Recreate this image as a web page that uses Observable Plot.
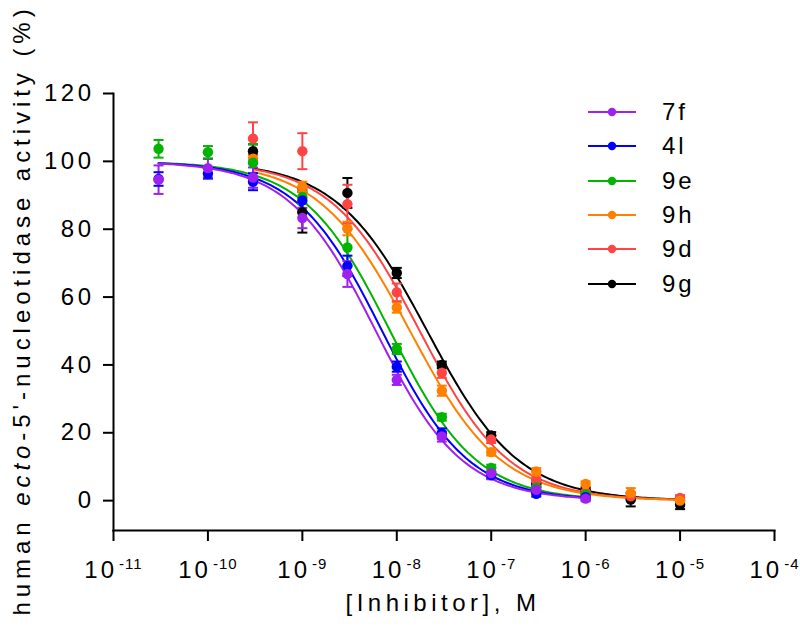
<!DOCTYPE html>
<html><head><meta charset="utf-8">
<script src="https://cdn.jsdelivr.net/npm/d3@7"></script>
<script src="https://cdn.jsdelivr.net/npm/@observablehq/plot@0.6"></script>
<style>
body{margin:0;background:#fff;}
#wrap{position:relative;width:800px;height:629px;font-family:"Liberation Sans",Arial,sans-serif;}
#legend{position:absolute;left:588px;top:95px;}
.row{display:flex;align-items:center;height:34.3px;}
.row span{margin-left:26px;font-size:24px;letter-spacing:3px;color:#000;}
</style></head><body><div id="wrap"><div id="legend"></div></div>
<script>
// ---- data ----
const compounds = ["7f", "4l", "9e", "9h", "9d", "9g"];
const colors = ["#a020f0", "#0000ff", "#00b400", "#ff8000", "#ff4444", "#000000"];
const concentrations = [3e-11, 1e-10, 3e-10, 1e-9, 3e-9, 1e-8, 3e-8, 1e-7, 3e-7, 1e-6, 3e-6, 1e-5];
const xTicks = [1e-11, 1e-10, 1e-9, 1e-8, 1e-7, 1e-6, 1e-5, 1e-4];
const yTicks = [0, 20, 40, 60, 80, 100, 120];

// mean activity (%) per concentration (null = not measured)
const mean7f = [94.6, 98.0, 95.2, 83.3, 66.8, 35.6, 18.9, 8.1, 3.2, 0.6, null, null];
const mean4l = [94.8, 96.4, 94.0, 88.5, 69.2, 39.5, 19.8, 7.5, 2.0, 1.0, null, null];
const mean9e = [103.7, 102.7, 99.6, 89.5, 74.6, 44.7, 24.6, 9.6, 3.9, 1.8, null, null];
const mean9h = [null, null, 100.8, 92.5, 80.2, 56.9, 32.4, 14.3, 8.6, 4.9, 2.2, 0.0];
const mean9d = [null, null, 106.7, 103.0, 87.4, 61.4, 37.7, 18.0, 5.9, 2.5, 1.3, 0.8];
const mean9g = [null, null, 103.0, 85.0, 90.7, 67.1, 40.0, 19.2, 5.0, 3.2, 0.3, -1.2];

// error (± SEM)
const err7f = [4.2, 2.7, 3.0, 3.0, 3.8, 1.5, 1.5, 1.8, 1.0, 0.8, null, null];
const err4l = [2.0, 1.5, 2.5, 3.5, 3.0, 1.5, 1.5, 1.0, 0.8, 0.8, null, null];
const err9e = [2.6, 1.8, 5.5, 2.0, 5.5, 1.5, 1.0, 1.0, 1.0, 0.8, null, null];
const err9h = [null, null, 1.5, 1.5, 2.0, 1.5, 1.5, 1.0, 1.0, 0.8, 1.5, 1.0];
const err9d = [null, null, 4.8, 5.3, 5.7, 2.6, 1.5, 1.0, 1.0, 0.8, 1.0, 0.8];
const err9g = [null, null, 2.0, 6.0, 4.4, 1.5, 1.0, 1.0, 1.0, 0.8, 2.0, 1.3];

// fitted dose-response parameters (estimated from the drawn curves)
const fitTop = [100, 100, 100, 100, 100, 100];
const fitBottom = [0, 0, 0, 0, 0, 0];
const fitIC50 = [6.0e-9, 7.0e-9, 8.5e-9, 1.38e-8, 1.75e-8, 2.1e-8];
const fitHill = [0.95, 0.95, 0.95, 0.9, 0.92, 0.9];

// ---- build tables ----
const means = [mean7f, mean4l, mean9e, mean9h, mean9d, mean9g];
const errs = [err7f, err4l, err9e, err9h, err9d, err9g];
const points = [];
const curves = [];
for (let i = compounds.length - 1; i >= 0; i--) {
  const idx = [];
  means[i].forEach((m, j) => {
    if (m != null) { idx.push(j); points.push({compound: compounds[i], x: concentrations[j], y: m, e: errs[i][j]}); }
  });
  const lo = Math.log10(concentrations[idx[0]]), hi = Math.log10(concentrations[idx[idx.length - 1]]);
  const n = 160;
  for (let k = 0; k <= n; k++) {
    const x = Math.pow(10, lo + (hi - lo) * k / n);
    const y = fitBottom[i] + (fitTop[i] - fitBottom[i]) / (1 + Math.pow(x / fitIC50[i], fitHill[i]));
    curves.push({compound: compounds[i], x, y});
  }
}

const cap = {draw(ctx, size) { const w = Math.sqrt(size / Math.PI); ctx.moveTo(-w, 0); ctx.lineTo(w, 0); }};

const chart = Plot.plot({
  width: 800, height: 629,
  marginLeft: 113, marginRight: 26, marginTop: 93, marginBottom: 99,
  style: {fontFamily: '"Liberation Sans", Arial, sans-serif', fontSize: "24px", color: "#000", background: "#fff"},
  x: {type: "log", domain: [1e-11, 1e-4]},
  y: {domain: [-8.8, 120]},
  color: {domain: compounds, range: colors},
  marks: [
    Plot.axisY({ticks: yTicks, tickSize: 10, tickPadding: 9, strokeWidth: 2, label: null}),
    Plot.axisX({ticks: xTicks, tickSize: 11, tickPadding: 19, strokeWidth: 2, label: null,
      tickFormat: d => "10^" + Math.round(Math.log10(d))}),
    Plot.frame({anchor: "left", strokeWidth: 2}),
    Plot.frame({anchor: "bottom", strokeWidth: 2}),
    Plot.line(curves, {x: "x", y: "y", z: "compound", stroke: "compound", strokeWidth: 2, curve: "linear"}),
    Plot.ruleX(points, {x: "x", y1: d => d.y - d.e, y2: d => d.y + d.e, stroke: "compound", strokeWidth: 2}),
    Plot.dot(points, {x: "x", y: d => d.y + d.e, symbol: cap, r: 5, stroke: "compound", fill: "none", strokeWidth: 2}),
    Plot.dot(points, {x: "x", y: d => d.y - d.e, symbol: cap, r: 5, stroke: "compound", fill: "none", strokeWidth: 2}),
    Plot.dot(points, {x: "x", y: "y", r: 5.2, fill: "compound", stroke: "none"})
  ]
});
document.getElementById("wrap").prepend(chart);

const svg = d3.select(chart);
svg.selectAll('g[aria-label="y-axis tick label"] text').style("letter-spacing", "3.5px");
// superscript exponents on x tick labels
svg.selectAll('g[aria-label="x-axis tick label"] text').each(function() {
  const t = d3.select(this);
  const parts = t.text().split("^");
  t.text(null).style("letter-spacing", "3px");
  t.append("tspan").text(parts[0]);
  t.append("tspan").attr("dx", 2).attr("dy", -9).style("font-size", "15px").style("letter-spacing", "1px").text(parts[1]);
});
// axis titles
const ylab = svg.append("text")
  .attr("transform", "translate(30,310) rotate(-90)")
  .attr("text-anchor", "middle")
  .style("font-size", "24px").style("letter-spacing", "4.95px");
ylab.append("tspan").text("human ");
ylab.append("tspan").style("font-style", "italic").text("ecto");
ylab.append("tspan").text("-5'-nucleotidase activity (%)");
svg.append("text")
  .attr("x", 443).attr("y", 611)
  .attr("text-anchor", "middle")
  .style("font-size", "24px").style("letter-spacing", "4.5px")
  .text("[Inhibitor], M");

// legend
const legend = d3.select("#legend");
compounds.forEach((c, i) => {
  const row = legend.append("div").attr("class", "row");
  const s = row.append("svg").attr("width", 48).attr("height", 12);
  s.append("line").attr("x1", 0).attr("x2", 48).attr("y1", 6).attr("y2", 6).attr("stroke", colors[i]).attr("stroke-width", 2);
  s.append("circle").attr("cx", 24).attr("cy", 6).attr("r", 4.2).attr("fill", colors[i]);
  row.append("span").text(c);
});
</script></body></html>
